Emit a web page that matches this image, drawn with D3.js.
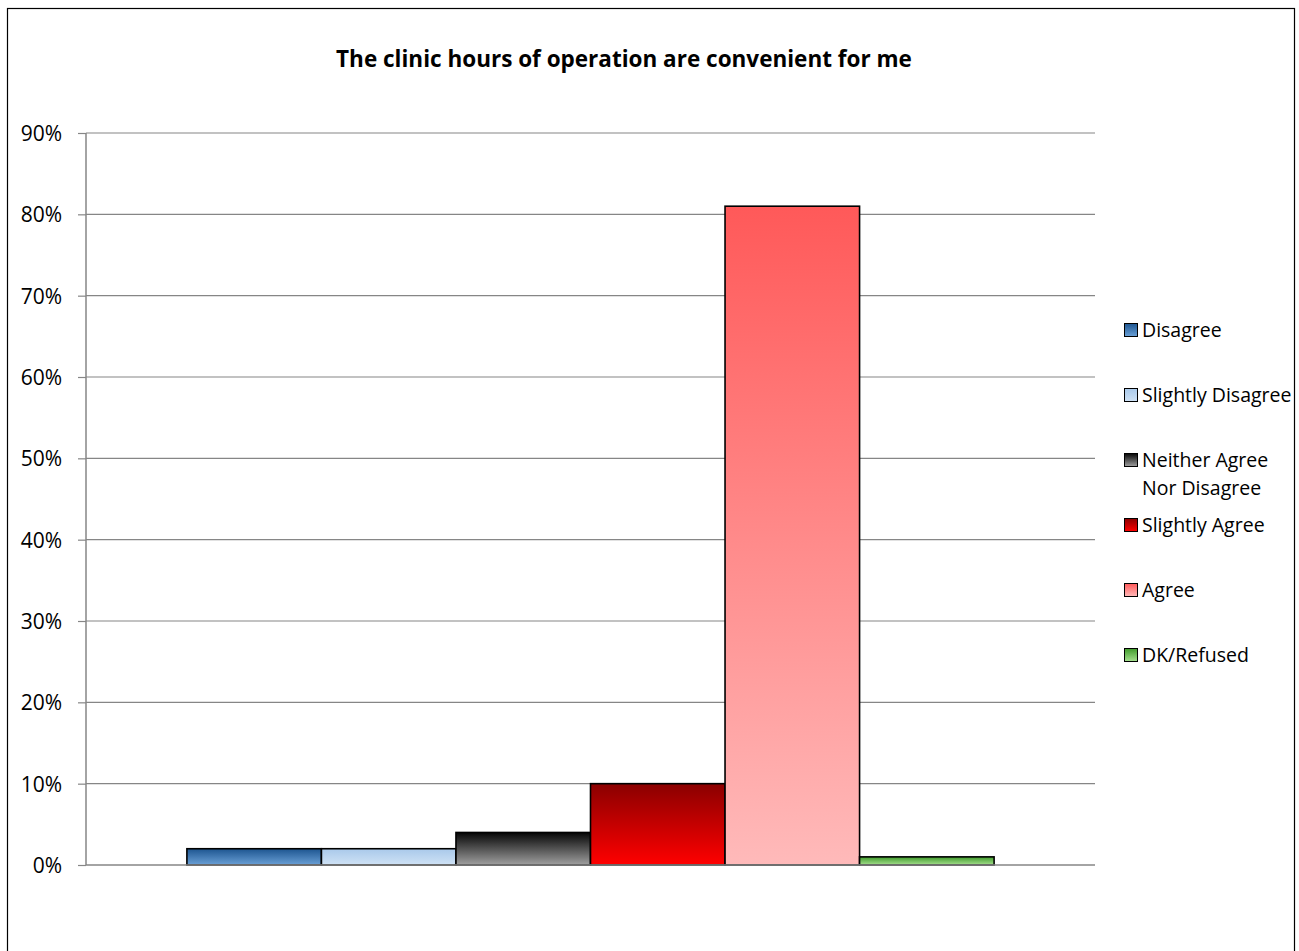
<!DOCTYPE html>
<html>
<head>
<meta charset="utf-8">
<script src="https://cdn.jsdelivr.net/npm/d3@7"></script>
<style>
  html, body { margin: 0; padding: 0; background: #fff; }
  svg { display: block; }
  text { font-family: "Open Sans", Lato, sans-serif; fill: #000; }
</style>
</head>
<body>
<svg id="chart" width="1299" height="951"></svg>
<script>
// Survey responses
const categories = ["Disagree", "Slightly Disagree", "Neither Agree Nor Disagree", "Slightly Agree", "Agree", "DK/Refused"];
const legendLines = [["Disagree"], ["Slightly Disagree"], ["Neither Agree", "Nor Disagree"], ["Slightly Agree"], ["Agree"], ["DK/Refused"]];
const values = [0.02, 0.02, 0.04, 0.10, 0.81, 0.01];
const yTicks = [0, 0.1, 0.2, 0.3, 0.4, 0.5, 0.6, 0.7, 0.8, 0.9];
// gradient stops per series: top colour, bottom colour
const gradTop = ["#1d5590", "#a9c9ea", "#050505", "#8a0000", "#ff5959", "#3f9a2a"];
const gradBottom = ["#6aa0d6", "#cfe2f5", "#a0a0a0", "#ff0000", "#ffbaba", "#a6e08f"];

const svg = d3.select("#chart");

// outer frame
svg.append("rect").attr("x", 7.5).attr("y", 8.5).attr("width", 1287).attr("height", 960)
  .attr("fill", "#fff").attr("stroke", "#000").attr("stroke-width", 1.2);

const plot = { left: 86, right: 1095, top: 133, bottom: 865 };

const y = d3.scaleLinear().domain([0, 0.9]).range([plot.bottom, plot.top]);
// one category group; six adjacent bars with a 150% gap split around them
const gw = plot.right - plot.left;
const barsWidth = gw * 6 / (6 + 1.5);
const xb = d3.scaleBand().domain(categories)
  .range([plot.left + (gw - barsWidth) / 2, plot.left + (gw + barsWidth) / 2]).padding(0);

const defs = svg.append("defs");
categories.forEach((c, i) => {
  const g = defs.append("linearGradient").attr("id", "grad" + i)
    .attr("x1", 0).attr("y1", 0).attr("x2", 0).attr("y2", 1);
  g.append("stop").attr("offset", "0%").attr("stop-color", gradTop[i]);
  g.append("stop").attr("offset", "100%").attr("stop-color", gradBottom[i]);
});

// y axis
const yAxis = d3.axisLeft(y).tickValues(yTicks).tickFormat(d3.format(".0%")).tickSize(8).tickPadding(16);
const ga = svg.append("g").attr("transform", `translate(${plot.left},0)`).call(yAxis);
ga.select(".domain").attr("stroke", "#868686").attr("stroke-width", 1.5).attr("d", `M0,${plot.top}V${plot.bottom}`);
ga.selectAll(".tick line").attr("stroke", "#868686").attr("stroke-width", 1.2);
ga.selectAll(".tick text").attr("font-size", 21).attr("font-family", "'Open Sans', Lato, sans-serif")
  .attr("fill", "#000").attr("dy", "0.36em");

// gridlines
svg.append("g").selectAll("line").data(yTicks.filter(d => d > 0)).join("line")
  .attr("x1", plot.left).attr("x2", plot.right)
  .attr("y1", d => y(d)).attr("y2", d => y(d))
  .attr("stroke", "#868686").attr("stroke-width", 1.2);

// bars
svg.append("g").selectAll("rect").data(categories).join("rect")
  .attr("x", d => xb(d))
  .attr("y", (d, i) => y(values[i]))
  .attr("width", xb.bandwidth())
  .attr("height", (d, i) => plot.bottom - y(values[i]))
  .attr("fill", (d, i) => `url(#grad${i})`)
  .attr("stroke", "#000").attr("stroke-width", 1.6);

// baseline
svg.append("line").attr("x1", plot.left).attr("x2", plot.right)
  .attr("y1", plot.bottom).attr("y2", plot.bottom)
  .attr("stroke", "#868686").attr("stroke-width", 1.5);

// title
svg.append("text").attr("x", 624).attr("y", 67).attr("text-anchor", "middle")
  .attr("font-size", 22.5).attr("font-weight", "bold")
  .text("The clinic hours of operation are convenient for me");

// legend
const legendY = [330, 395, 460, 525, 590, 655];
const lg = svg.append("g");
categories.forEach((c, i) => {
  const row = lg.append("g").attr("transform", `translate(1124,${legendY[i]})`);
  row.append("rect").attr("x", 0.5).attr("y", -6.5).attr("width", 13).attr("height", 13)
    .attr("fill", `url(#grad${i})`).attr("stroke", "#000").attr("stroke-width", 1);
  const t = row.append("text").attr("x", 18).attr("y", 7).attr("font-size", 19.5);
  legendLines[i].forEach((ln, k) => {
    t.append("tspan").attr("x", 18).attr("dy", k === 0 ? 0 : 28).text(ln);
  });
});
</script>
</body>
</html>
